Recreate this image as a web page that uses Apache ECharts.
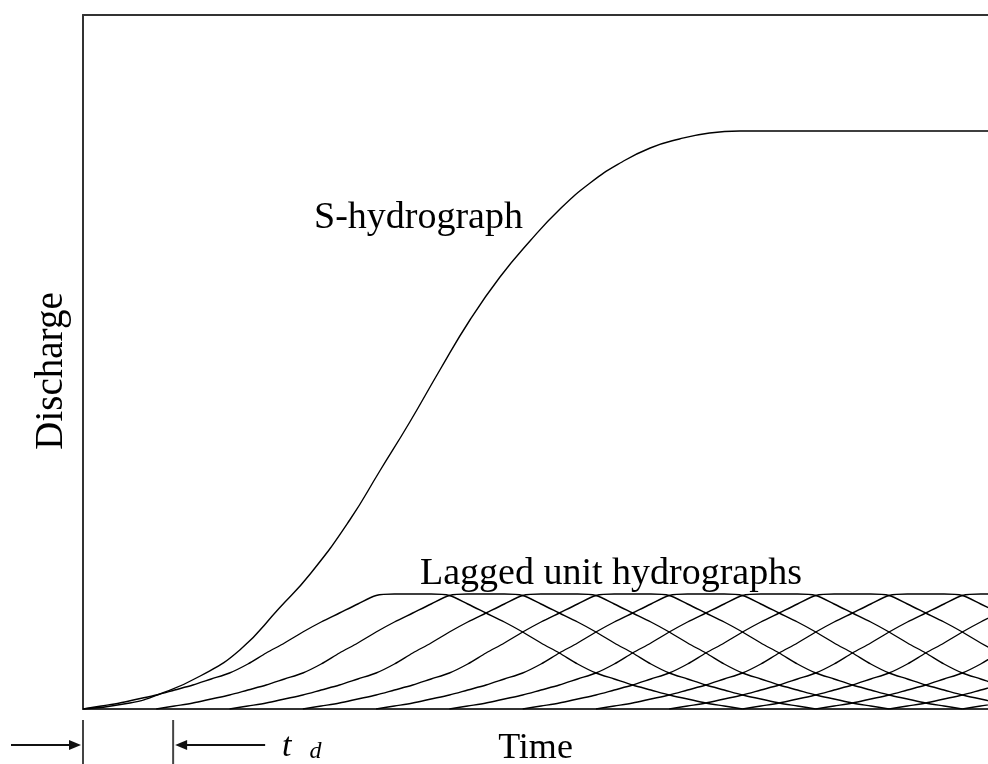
<!DOCTYPE html>
<html>
<head>
<meta charset="utf-8">
<script src="https://cdn.jsdelivr.net/npm/echarts@6/dist/echarts.min.js"></script>
<style>html,body{margin:0;padding:0;background:#fff}#c{width:988px;height:764px}</style>
</head>
<body>
<div id="c"></div>
<script>
// ---- data (time in lag units td, discharge in arbitrary units) ----
const xMax = 12.35;
const yMax = 694;
// unit hydrograph ordinates, one every quarter lag
const uhStep = 0.25;
const uhOrdinates = [0, 3, 6, 10, 14, 19, 24, 30, 36, 45, 56, 66, 77, 87, 96, 105, 113.5, 115, 115,
                     115, 113.5, 105, 96, 87, 77, 66, 56, 45, 36, 30, 24, 19, 14, 10, 6, 3, 0];
// start times of the lagged unit hydrographs
const lagStarts = [0, 1, 2, 3, 4, 5, 6, 7, 8, 9, 10, 11, 12];
// S-hydrograph
const sTime = [0, 0.64, 1.05, 1.60, 2.14, 2.68, 3.10, 3.64, 4.05, 4.46, 4.87, 5.28, 5.69, 6.10, 6.51, 6.92, 7.33, 7.74, 8.14, 8.55, 8.96, 12.35];
const sFlow = [0, 6, 15, 33, 59, 101, 135, 189, 238, 287, 339, 389, 432, 468, 500, 526, 546, 561, 570, 576, 578, 578];
// td marker positions (lag units) for the annotation below the axis
const tdMarkers = [0, 1.23];

const FONT = '"Liberation Serif", "Times New Roman", serif';
const chart = echarts.init(document.getElementById('c'), null, {renderer: 'canvas'});

const series = [];
lagStarts.forEach(function (s, k) {
  series.push({
    name: 'UH' + k,
    type: 'line',
    data: uhOrdinates.map(function (q, i) { return [s + i * uhStep, q]; }),
    showSymbol: false,
    smooth: 0.3,
    clip: true,
    lineStyle: {color: '#000', width: 1.4},
    silent: true,
    z: 3
  });
});
series.push({
  name: 'S-hydrograph',
  type: 'line',
  data: sTime.map(function (t, i) { return [t, sFlow[i]]; }),
  showSymbol: false,
  smooth: 0.5,
  clip: true,
  lineStyle: {color: '#000', width: 1.4},
  silent: true,
  z: 4
});

chart.setOption({
  animation: false,
  backgroundColor: '#fff',
  grid: {left: 83, right: 0, top: 15, bottom: 55, containLabel: false, outerBoundsMode: 'none'},
  xAxis: [{
    type: 'value', min: 0, max: xMax, position: 'bottom',
    name: 'Time', nameLocation: 'middle', nameGap: 22,
    nameTextStyle: {fontFamily: FONT, fontSize: 36, color: '#000'},
    axisLine: {show: true, lineStyle: {color: '#333', width: 2}},
    axisTick: {show: false}, axisLabel: {show: false}, splitLine: {show: false}
  }, {
    type: 'value', min: 0, max: xMax, position: 'top',
    axisLine: {show: true, onZero: false, lineStyle: {color: '#333', width: 2}},
    axisTick: {show: false}, axisLabel: {show: false}, splitLine: {show: false}
  }],
  yAxis: {
    type: 'value', min: 0, max: yMax,
    name: 'Discharge', nameLocation: 'middle', nameRotate: 90, nameGap: 12,
    nameTextStyle: {fontFamily: FONT, fontSize: 39, color: '#000', padding: [0, 18, 0, 0]},
    axisLine: {show: true, lineStyle: {color: '#333', width: 2}},
    axisTick: {show: false}, axisLabel: {show: false}, splitLine: {show: false}
  },
  series: series
});

const xa = chart.convertToPixel({xAxisIndex: 0}, tdMarkers[0]);
const xb = chart.convertToPixel({xAxisIndex: 0}, tdMarkers[1]);
const ay = 745;
chart.setOption({
  graphic: [
    {type: 'text', left: 314, top: 199, style: {text: 'S-hydrograph', font: '38px ' + FONT, fill: '#000'}},
    {type: 'text', left: 420, top: 555, style: {text: 'Lagged unit hydrographs', font: '38px ' + FONT, fill: '#000'}},
    {type: 'line', shape: {x1: xa, y1: 720, x2: xa, y2: 764}, style: {stroke: '#444', lineWidth: 2}},
    {type: 'line', shape: {x1: xb, y1: 720, x2: xb, y2: 764}, style: {stroke: '#444', lineWidth: 2}},
    {type: 'line', shape: {x1: 11, y1: ay, x2: xa - 8, y2: ay}, style: {stroke: '#111', lineWidth: 2}},
    {type: 'polygon', shape: {points: [[xa - 2, ay], [xa - 14, ay - 5], [xa - 14, ay + 5]]}, style: {fill: '#111'}},
    {type: 'line', shape: {x1: xb + 8, y1: ay, x2: xb + 92, y2: ay}, style: {stroke: '#111', lineWidth: 2}},
    {type: 'polygon', shape: {points: [[xb + 2, ay], [xb + 14, ay - 5], [xb + 14, ay + 5]]}, style: {fill: '#111'}},
    {type: 'text', left: 282, top: 730, style: {
      text: '{t|t}{d|d}',
      rich: {
        t: {fontFamily: FONT, fontStyle: 'italic', fontSize: 34, fill: '#000', verticalAlign: 'bottom'},
        d: {fontFamily: FONT, fontStyle: 'italic', fontSize: 24, fill: '#000', verticalAlign: 'bottom', padding: [0, 0, 0, 18]}
      }
    }}
  ]
});
</script>
</body>
</html>
